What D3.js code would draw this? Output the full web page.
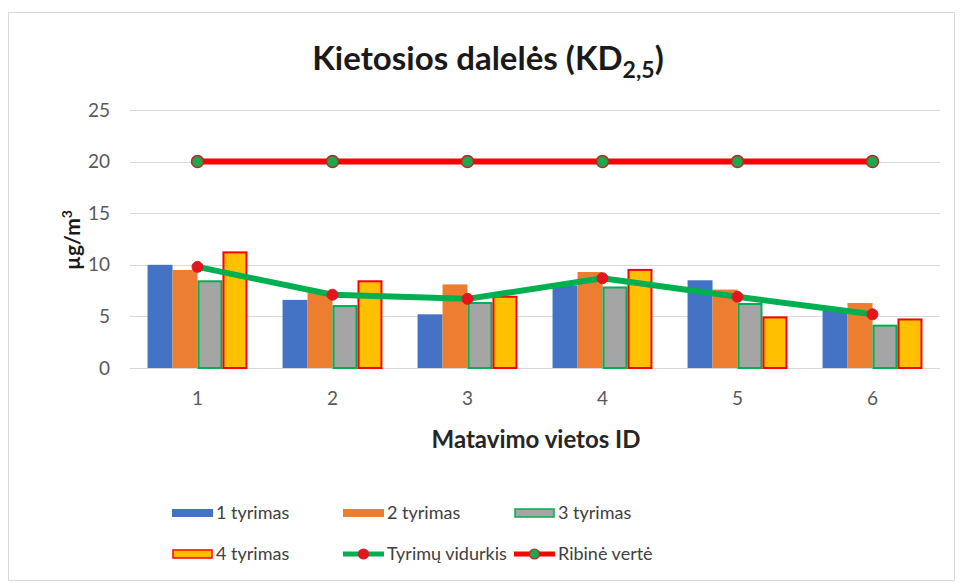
<!DOCTYPE html>
<html>
<head>
<meta charset="utf-8">
<script src="https://cdn.jsdelivr.net/npm/d3@7"></script>
<style>
  body { margin: 0; background: #fff; }
  svg { font-family: Lato, "Open Sans", sans-serif; }
</style>
</head>
<body>
<svg width="960" height="583"></svg>
<script>
// chart data
const categories = ["1", "2", "3", "4", "5", "6"];
const tyrimas1 = [10.0, 6.6, 5.2, 8.0, 8.5, 5.6];
const tyrimas2 = [9.5, 7.3, 8.1, 9.3, 7.6, 6.3];
const tyrimas3 = [8.5, 6.1, 6.4, 7.9, 6.3, 4.2];
const tyrimas4 = [11.3, 8.5, 7.0, 9.6, 5.0, 4.8];
const vidurkis = [9.8, 7.1, 6.7, 8.7, 6.9, 5.2];
const ribine = [20, 20, 20, 20, 20, 20];
const yTicks = [0, 5, 10, 15, 20, 25];

const barSeries = [
  { name: "1 tyrimas", values: tyrimas1, fill: "#4472C4", stroke: "none" },
  { name: "2 tyrimas", values: tyrimas2, fill: "#ED7D31", stroke: "none" },
  { name: "3 tyrimas", values: tyrimas3, fill: "#A5A5A5", stroke: "#00B050" },
  { name: "4 tyrimas", values: tyrimas4, fill: "#FFC000", stroke: "#FF0000" }
];

var svg = d3.select("svg");

// chart frame
svg.append("rect")
  .attr("x", 8.5).attr("y", 12.5)
  .attr("width", 946).attr("height", 568)
  .attr("fill", "#fff")
  .attr("stroke", "#d9d9d9");

var x0 = d3.scaleBand().domain(categories).range([130, 940])
  .paddingInner(0.26).paddingOuter(0.13);
var x1 = d3.scaleBand().domain(d3.range(4)).range([0, x0.bandwidth()]);
var y = d3.scaleLinear().domain([0, 25]).range([368, 110]);

// gridlines
svg.append("g")
  .selectAll("line")
  .data(yTicks)
  .enter()
  .append("line")
  .attr("x1", 130).attr("x2", 940)
  .attr("y1", (d) => Math.round(y(d)) + 0.5)
  .attr("y2", (d) => Math.round(y(d)) + 0.5)
  .attr("stroke", "#d9d9d9")
  .attr("stroke-width", 1);

// y axis labels
var yAxis = svg.append("g")
  .attr("transform", "translate(130,0)")
  .call(d3.axisLeft(y).tickValues(yTicks).tickSize(0).tickPadding(20));
yAxis.select(".domain").remove();
yAxis.selectAll("text")
  .attr("fill", "#595959")
  .style("font-size", "19px")
  .style("font-family", "Lato, sans-serif");

// x axis labels
var xAxis = svg.append("g")
  .attr("transform", "translate(0,368)")
  .call(d3.axisBottom(x0).tickSize(0).tickPadding(24));
xAxis.select(".domain").remove();
xAxis.selectAll("text")
  .attr("fill", "#595959")
  .style("font-size", "19px")
  .style("font-family", "Lato, sans-serif");

// bars
barSeries.forEach((s, si) => {
  svg.append("g")
    .selectAll("rect")
    .data(s.values)
    .enter()
    .append("rect")
    .attr("x", (d, i) => x0(categories[i]) + x1(si) + (s.stroke === "none" ? 0 : 1))
    .attr("y", (d) => y(d) + (s.stroke === "none" ? 0 : 1))
    .attr("width", x1.bandwidth() - (s.stroke === "none" ? 0 : 2))
    .attr("height", (d) => y(0) - y(d) - (s.stroke === "none" ? 0 : 1))
    .attr("fill", s.fill)
    .attr("stroke", s.stroke)
    .attr("stroke-width", 2);
});

var cx = (d, i) => x0(categories[i]) + x0.bandwidth() / 2;
var line = d3.line().x(cx).y((d) => y(d));

// average line
svg.append("path")
  .datum(vidurkis)
  .attr("d", line)
  .attr("fill", "none")
  .attr("stroke", "#00B050")
  .attr("stroke-width", 6)
  .attr("stroke-linejoin", "round");
svg.append("g")
  .selectAll("circle")
  .data(vidurkis)
  .enter()
  .append("circle")
  .attr("cx", cx)
  .attr("cy", (d) => y(d))
  .attr("r", 5.5)
  .attr("fill", "#E8131B")
  .attr("stroke", "#C0272D")
  .attr("stroke-width", 1);

// limit line
svg.append("path")
  .datum(ribine)
  .attr("d", line)
  .attr("fill", "none")
  .attr("stroke", "#FF0000")
  .attr("stroke-width", 6);
svg.append("g")
  .selectAll("circle")
  .data(ribine)
  .enter()
  .append("circle")
  .attr("cx", cx)
  .attr("cy", (d) => y(d))
  .attr("r", 6)
  .attr("fill", "#1DA84A")
  .attr("stroke", "#B8262B")
  .attr("stroke-width", 1.5);

// title
var title = svg.append("text")
  .attr("x", 488)
  .attr("y", 70)
  .attr("text-anchor", "middle")
  .style("font-size", "33px")
  .style("font-weight", "bold")
  .attr("fill", "#1a1a1a");
title.append("tspan").text("Kietosios dalelės (KD");
title.append("tspan").attr("dy", 8).style("font-size", "23px").text("2,5");
title.append("tspan").attr("dy", -8).text(")");

// axis titles
var yLabel = svg.append("text")
  .attr("transform", "translate(80,240) rotate(-90)")
  .attr("text-anchor", "middle")
  .style("font-size", "21px")
  .style("font-weight", "bold")
  .attr("fill", "#1a1a1a");
yLabel.append("tspan").text("µg/m");
yLabel.append("tspan").attr("dy", -8).style("font-size", "14px").text("3");

svg.append("text")
  .attr("x", 536)
  .attr("y", 448)
  .attr("text-anchor", "middle")
  .style("font-size", "24px")
  .style("font-weight", "bold")
  .attr("fill", "#262626")
  .text("Matavimo vietos ID");

// legend
var legendItems = [
  { name: "1 tyrimas", type: "bar", s: barSeries[0], x: 172, y: 513 },
  { name: "2 tyrimas", type: "bar", s: barSeries[1], x: 343, y: 513 },
  { name: "3 tyrimas", type: "bar", s: barSeries[2], x: 514, y: 513 },
  { name: "4 tyrimas", type: "bar", s: barSeries[3], x: 172, y: 554 },
  { name: "Tyrimų vidurkis", type: "line", line: "#00B050", dot: "#E8131B", dotStroke: "#C0272D", x: 343, y: 554 },
  { name: "Ribinė vertė", type: "line", line: "#FF0000", dot: "#1DA84A", dotStroke: "#B8262B", x: 514, y: 554 }
];

var legend = svg.append("g");
legendItems.forEach((it) => {
  var g = legend.append("g").attr("transform", "translate(" + it.x + "," + it.y + ")");
  if (it.type === "bar") {
    g.append("rect")
      .attr("x", it.s.stroke === "none" ? 0 : 1)
      .attr("y", -4)
      .attr("width", it.s.stroke === "none" ? 41 : 39)
      .attr("height", 8)
      .attr("fill", it.s.fill)
      .attr("stroke", it.s.stroke)
      .attr("stroke-width", 1.5);
  } else {
    g.append("line")
      .attr("x1", 0).attr("x2", 41)
      .attr("y1", 0).attr("y2", 0)
      .attr("stroke", it.line)
      .attr("stroke-width", 5);
    g.append("circle")
      .attr("cx", 20.5).attr("cy", 0).attr("r", 5)
      .attr("fill", it.dot)
      .attr("stroke", it.dotStroke)
      .attr("stroke-width", 1.2);
  }
  g.append("text")
    .attr("x", 44)
    .attr("y", 0)
    .attr("dy", "0.35em")
    .style("font-size", "18px")
    .attr("fill", "#404040")
    .text(it.name);
});
</script>
</body>
</html>
